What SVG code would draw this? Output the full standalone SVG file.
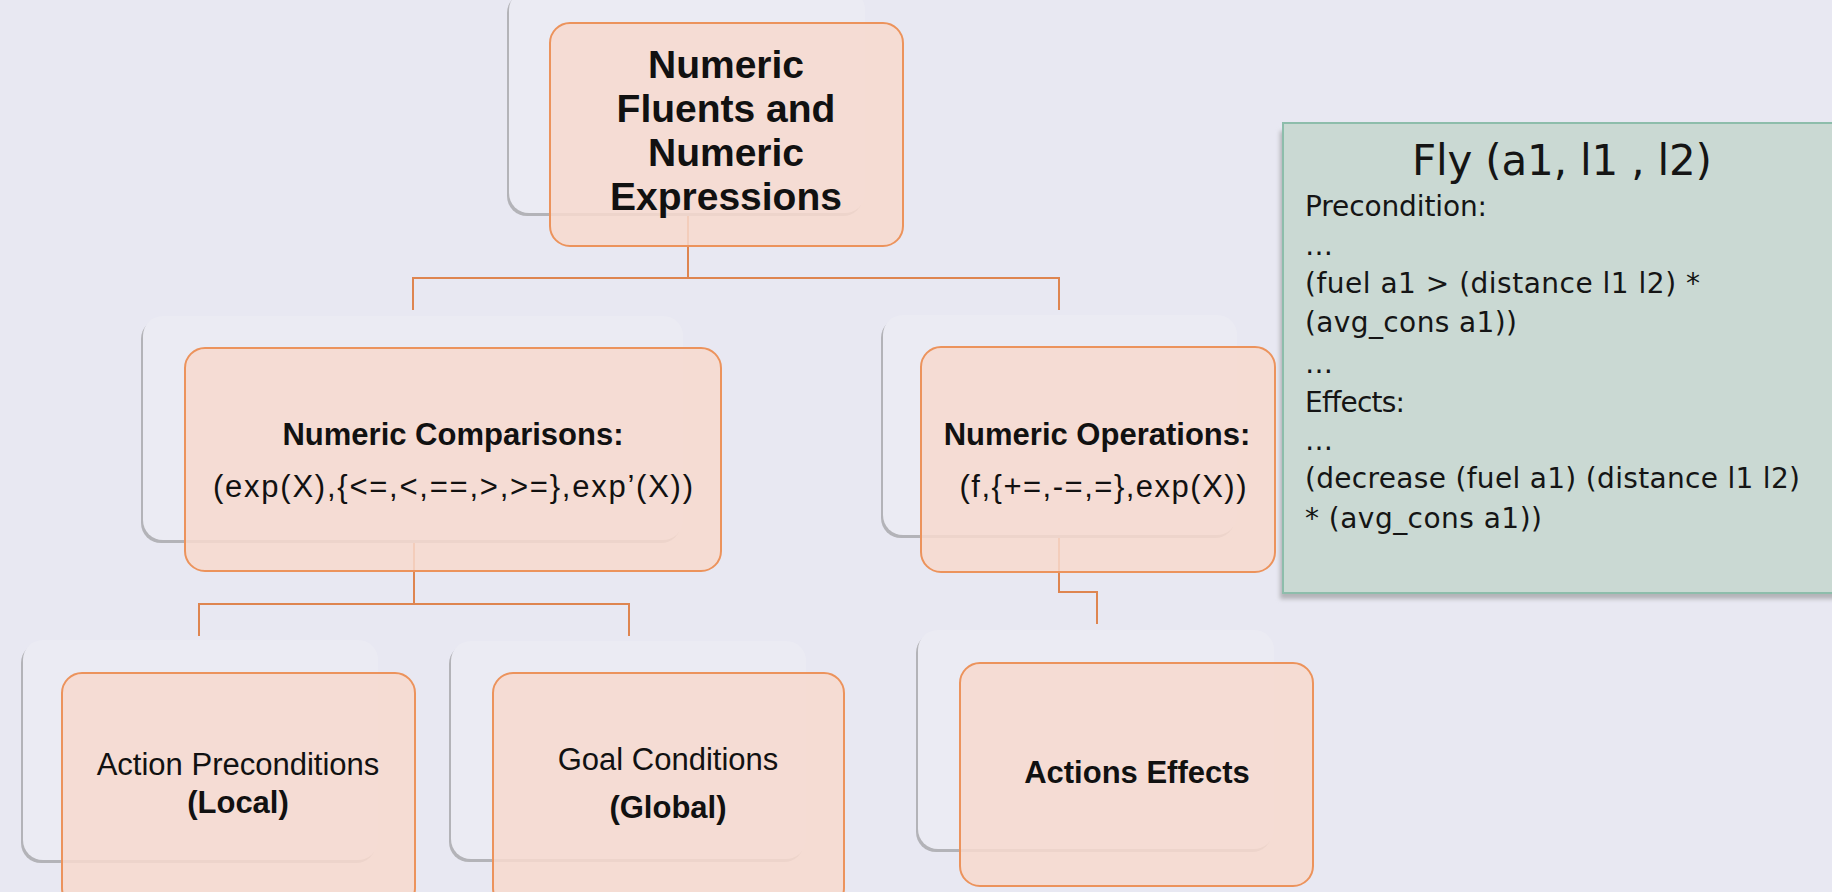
<svg xmlns="http://www.w3.org/2000/svg" width="1832" height="892" viewBox="0 0 1832 892">
<defs>
<style>
.bg{fill:#e8e8f2}
.conn{fill:none;stroke:#de8550;stroke-width:2}
.sh{fill:#b3b3b8}
.bk{fill:#ebebf3}
.nd{fill:#f7d9ce;fill-opacity:0.85;stroke:#ec935c;stroke-width:2}
.t{font-family:"Liberation Sans",Arial,sans-serif;fill:#111;text-anchor:middle;font-size:31px}
.b{font-weight:bold}
.g{font-family:"DejaVu Sans",sans-serif;fill:#151515;font-size:28px}
.gb{fill:#cad9d3;stroke:#8dbdab;stroke-width:2}
</style>
<filter id="blur" x="-5%" y="-5%" width="110%" height="110%"><feGaussianBlur stdDeviation="2"/></filter>
</defs>
<rect class="bg" x="0" y="0" width="1832" height="892"/>

<g id="connectors">
<path class="conn" d="M688,200 V278 M413,310 V278 H1059 V310"/>
<path class="conn" d="M414,530 V604 M199,636 V604 H629 V636"/>
<path class="conn" d="M1059,525 V592 H1097 V624"/>
</g>

<g id="node-root">
<rect class="sh" x="507" y="-7" width="356" height="223" rx="20"/>
<rect class="bk" x="509" y="-10" width="356" height="223" rx="20"/>
<rect class="nd" x="550" y="23" width="353" height="223" rx="20"/>
<text class="t b" style="font-size:39px" x="726" y="78">Numeric</text>
<text class="t b" style="font-size:39px" x="726" y="122">Fluents and</text>
<text class="t b" style="font-size:39px" x="726" y="166">Numeric</text>
<text class="t b" style="font-size:39px" x="726" y="210">Expressions</text>
</g>

<g id="node-comparisons">
<rect class="sh" x="141" y="319" width="540" height="224" rx="20"/>
<rect class="bk" x="143" y="316" width="540" height="224" rx="20"/>
<rect class="nd" x="185" y="348" width="536" height="223" rx="20"/>
<text class="t b" x="453" y="445">Numeric Comparisons:</text>
<text class="t" x="453" y="497" textLength="480">(exp(X),{&lt;=,&lt;,==,&gt;,&gt;=},exp’(X))</text>
</g>

<g id="node-operations">
<rect class="sh" x="881" y="318" width="354" height="220" rx="20"/>
<rect class="bk" x="883" y="315" width="354" height="220" rx="20"/>
<rect class="nd" x="921" y="347" width="354" height="225" rx="20"/>
<text class="t b" x="1097" y="445">Numeric Operations:</text>
<text class="t" x="1103" y="497" textLength="287">(f,{+=,-=,=},exp(X))</text>
</g>

<g id="node-action-preconditions">
<rect class="sh" x="21" y="643" width="355" height="220" rx="20"/>
<rect class="bk" x="23" y="640" width="355" height="220" rx="20"/>
<rect class="nd" x="62" y="673" width="353" height="235" rx="20"/>
<text class="t" x="238" y="775">Action Preconditions</text>
<text class="t b" x="238" y="813">(Local)</text>
</g>

<g id="node-goal-conditions">
<rect class="sh" x="449" y="644" width="355" height="218" rx="20"/>
<rect class="bk" x="451" y="641" width="355" height="218" rx="20"/>
<rect class="nd" x="493" y="673" width="351" height="235" rx="20"/>
<text class="t" x="668" y="770">Goal Conditions</text>
<text class="t b" x="668" y="818">(Global)</text>
</g>

<g id="node-actions-effects">
<rect class="sh" x="916" y="633" width="356" height="219" rx="20"/>
<rect class="bk" x="918" y="630" width="356" height="219" rx="20"/>
<rect class="nd" x="960" y="663" width="353" height="223" rx="20"/>
<text class="t b" x="1137" y="783">Actions Effects</text>
</g>

<g id="fly-box">
<rect class="sh" x="1280" y="131" width="600" height="468" filter="url(#blur)"/>
<rect class="gb" x="1283" y="123" width="600" height="470"/>
<text class="g" style="font-size:42px;text-anchor:middle" x="1562" y="175" textLength="300">Fly (a1, l1 , l2)</text>
<text class="g" x="1305" y="216" textLength="182">Precondition:</text>
<text class="g" x="1305" y="255">…</text>
<text class="g" x="1305" y="293" textLength="395">(fuel a1 &gt; (distance l1 l2) *</text>
<text class="g" x="1305" y="332" textLength="212">(avg_cons a1))</text>
<text class="g" x="1305" y="373">…</text>
<text class="g" x="1305" y="412" textLength="100">Effects:</text>
<text class="g" x="1305" y="450">…</text>
<text class="g" x="1305" y="488" textLength="495">(decrease (fuel a1) (distance l1 l2)</text>
<text class="g" x="1305" y="528" textLength="237">* (avg_cons a1))</text>
</g>
</svg>
